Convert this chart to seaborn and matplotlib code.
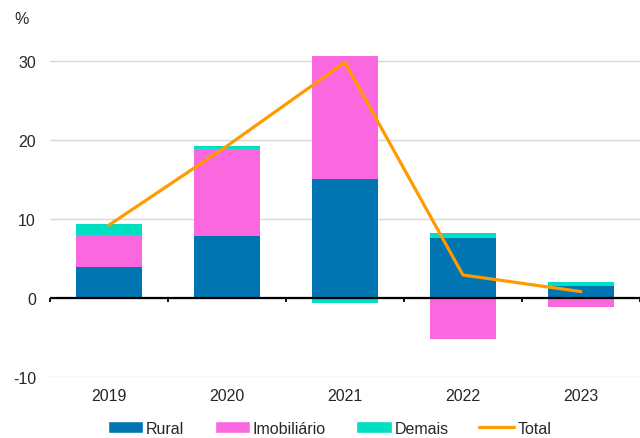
import numpy as np
import pandas as pd
import matplotlib
matplotlib.use("Agg")
import matplotlib.pyplot as plt
import seaborn as sns
from matplotlib.patches import Patch
from matplotlib.lines import Line2D

years = ["2019", "2020", "2021", "2022", "2023"]
rural = [3.9, 7.8, 15.1, 7.6, 1.5]
imobiliario = [4.1, 11.0, 15.5, -5.2, -1.2]
demais = [1.3, 0.4, -0.7, 0.55, 0.5]
total = [9.2, 19.2, 29.8, 2.9, 0.8]

series_names = ["Rural", "Imobiliário", "Demais"]
colors = {"Rural": "#0075B1", "Imobiliário": "#FA68DF", "Demais": "#00DFC2", "Total": "#FF9A00"}

sns.set_style("white")
plt.rcParams["font.family"] = ["Liberation Sans", "DejaVu Sans"]
plt.rcParams["font.size"] = 11.5

fig = plt.figure(figsize=(6.4, 4.39), dpi=100)
left = 49.8 / 640
ax = fig.add_axes([left, 1 - 378 / 439, 1 - left, (378 - 38) / 439])

pos_bottom = np.zeros(len(years))
neg_bottom = np.zeros(len(years))
for name, vals in zip(series_names, [rural, imobiliario, demais]):
    vals = np.array(vals, dtype=float)
    bottoms = np.where(vals >= 0, pos_bottom, neg_bottom)
    sns.barplot(x=years, y=vals, order=years, color=colors[name], width=0.556,
                bottom=bottoms, ax=ax, saturation=1, linewidth=0, zorder=2)
    pos_bottom = pos_bottom + np.where(vals > 0, vals, 0)
    neg_bottom = neg_bottom + np.where(vals < 0, vals, 0)

sns.lineplot(x=np.arange(len(years)), y=total, color=colors["Total"], linewidth=2.3,
             ax=ax, zorder=4)

ax.set_xlim(-0.5, 4.5)
ax.set_ylim(-10, 33)
ax.set_yticks([-10, 0, 10, 20, 30])
ax.set_yticklabels(["-10", "0", "10", "20", "30"])
ax.yaxis.grid(True, color="#d9d9d9", linewidth=1)
ax.set_axisbelow(True)
ax.tick_params(axis="y", length=0, pad=10, labelsize=11.5)
ax.set_xticks(range(len(years)))
ax.set_xticklabels(years)
ax.tick_params(axis="x", length=0, pad=8, labelsize=11.5)
ax.set_xlabel("")
ax.set_ylabel("")
for s in ax.spines.values():
    s.set_visible(False)

ax.axhline(0, color="black", linewidth=1.6, zorder=3)
ax.vlines(np.arange(-0.5, 4.6, 1.0), -0.55, 0, color="black", linewidth=1.3, zorder=3,
          clip_on=False)

fig.text(21.6 / 640, 1 - 20 / 439, "%", fontsize=11.5, ha="center", va="center")

handles = [Patch(facecolor=colors[n], label=n) for n in series_names]
handles.append(Line2D([0], [0], color=colors["Total"], linewidth=2.3, label="Total"))
fig.legend(handles=handles, loc="center", bbox_to_anchor=(0.515, 0.022), ncol=4,
           frameon=False, handlelength=2.2, handleheight=0.75, handletextpad=0.2,
           columnspacing=1.9, fontsize=11.5, borderpad=0.1)

fig.savefig("out.png", dpi=100)
